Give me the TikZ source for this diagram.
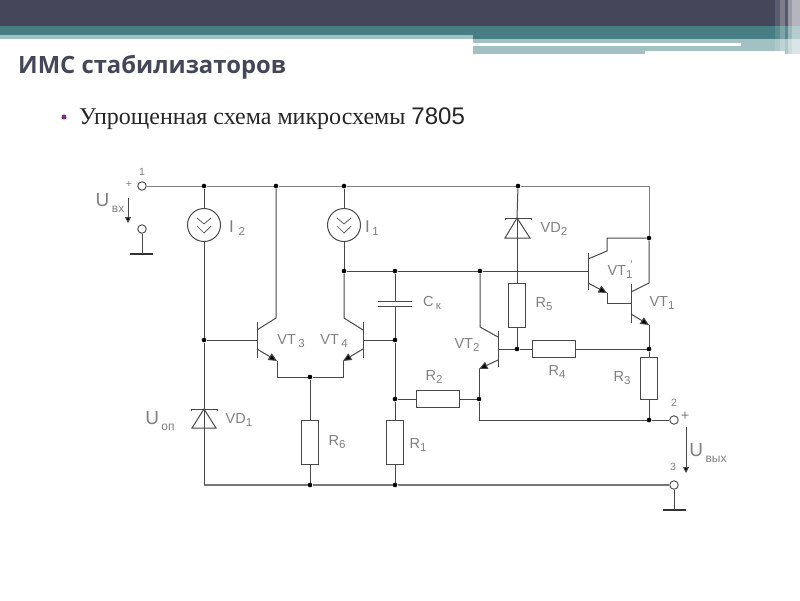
\documentclass[tikz,border=0pt]{standalone}
\usepackage{fontspec}
\setmainfont{Liberation Sans}
\newfontfamily\serifru{Liberation Serif}
\newfontfamily\titleru{Open Sans}
\usetikzlibrary{arrows.meta}
\definecolor{wire}{HTML}{484848}
\definecolor{lbl}{HTML}{808080}
\definecolor{ink}{HTML}{44465A}
\definecolor{teal1}{HTML}{467E84}
\definecolor{pale}{HTML}{A3C0C3}
\tikzset{
  w/.style={draw=wire,line width=1pt},
  thin wire/.style={draw=wire!70,line width=1pt},
  gnd/.style={draw=black!80,line width=1.8pt},
  rail/.style={draw=wire!75,line width=1.5pt},
  jd/.style={circle,fill=black,inner sep=0pt,minimum size=4.6pt},
  term/.style={circle,draw=wire,fill=white,line width=0.9pt,inner sep=0pt,minimum size=8.5pt},
  res/.style={rectangle,draw=wire,fill=white,line width=1pt,inner sep=0pt},
  vres/.style={res,minimum width=17pt,minimum height=44pt},
  hres/.style={res,minimum width=43pt,minimum height=17pt},
  src/.style={circle,draw=wire,line width=1pt,inner sep=0pt,minimum size=33pt},
  lab/.style={text=lbl,font=\fontsize{14.5}{14.5}\selectfont,inner sep=0pt},
  sm/.style={text=lbl,font=\fontsize{10.5}{11}\selectfont,inner sep=0pt},
  em/.style={w,-{Triangle[length=8.5pt,width=7.5pt,fill=black]}},
  volt/.style={draw=wire,line width=1pt,-{Triangle[length=6pt,width=6pt,fill=black]}},
}
\newcommand{\Sb}[1]{\raisebox{-3.5pt}{\fontsize{11.5}{12}\selectfont #1}}
\newcommand{\UL}[1]{{\fontsize{19}{19}\selectfont U}\,\raisebox{-6.5pt}{\fontsize{12}{12}\selectfont #1}}
\begin{document}
\begin{tikzpicture}[x=1pt,y=-1pt]
\useasboundingbox (0,0) rectangle (800,600);
% header
\fill[white] (0,0) rectangle (800,600);
\fill[pale] (473,39) rectangle (645,54);
\fill[pale] (645,39) rectangle (785,51);
\fill[pale] (785,39) rectangle (800,54);
\fill[white] (473,43) rectangle (741,45.5);
\fill[pale] (0,35) rectangle (473,39);
\fill[teal1] (0,26) rectangle (800,35);
\fill[teal1] (473,35) rectangle (800,39);
\fill[ink] (0,0) rectangle (800,26);
\fill[white,opacity=.12] (775,0) rectangle (780,54);
\fill[white,opacity=.3] (780,0) rectangle (785,54);
\fill[white,opacity=.1] (785,0) rectangle (788,54);
\fill[white,opacity=.45] (788,0) rectangle (792,54);
\fill[white,opacity=.6] (792,0) rectangle (800,54);
\node[anchor=base west,inner sep=0pt,text=ink] (title) at (18,73) {\titleru\bfseries\fontsize{23.8}{24}\selectfont ИМС стабилизаторов};
\node[circle,fill=violet!65!gray,inner sep=0pt,minimum size=5pt] (bul) at (64,117) {};
\node[anchor=base west,inner sep=0pt,text=black!85] (sub) at (79,124) {\fontsize{24}{24}\selectfont\serifru Упрощенная схема микросхемы \rmfamily 7805};

% junction dots
\node[jd] (t1) at (204,186) {};
\node[jd] (t2) at (276,186) {};
\node[jd] (t3) at (344,186) {};
\node[jd] (t4) at (518,186) {};
\coordinate (t5) at (649,186);
\node[jd] (a1) at (344,271) {};
\node[jd] (a2) at (395,271) {};
\node[jd] (a3) at (480,271) {};
\coordinate (a4) at (517,271);
\node[jd] (c1) at (649,238) {};
\node[jd] (b3) at (204,340) {};
\node[jd] (b4) at (395,340) {};
\node[jd] (e) at (310,377) {};
\node[jd] (r2l) at (395,399) {};
\node[jd] (r2r) at (479,399) {};
\node[jd] (r4a) at (517,349) {};
\node[jd] (r4b) at (649,349) {};
\node[jd] (o2) at (649,420) {};
\node[jd] (g1) at (310,485) {};
\node[jd] (g2) at (395,485) {};

% terminals
\node[term] (T1) at (142,186) {};
\node[term] (T0) at (142,229) {};
\node[term] (T2) at (674,420) {};
\node[term] (T3) at (674,485) {};
\coordinate (G0) at (142,254);
\coordinate (G0a) at (130,254); \coordinate (G0b) at (153,254);
\coordinate (G3) at (674,510);
\coordinate (G3a) at (663,510); \coordinate (G3b) at (686,510);

% components
\node[src] (I2) at (204,225) {};
\node[src] (I1) at (344,225) {};
\node[vres] (R6) at (310,442) {};
\node[vres] (R1) at (395,442) {};
\node[vres] (R5) at (517,305) {};
\node[vres,minimum height=42pt] (R3) at (649,378) {};
\node[hres] (R2) at (437.5,399) {};
\node[hres] (R4) at (554,349) {};

% chevrons
\foreach \c in {I1,I2} {
  \draw[draw=wire,line width=.7pt] ([shift={(-7,-7)}]\c.center) -- ([shift={(0,-1)}]\c.center) -- ([shift={(7,-7)}]\c.center);
  \draw[draw=wire,line width=.7pt] ([shift={(-7,1)}]\c.center) -- ([shift={(0,8)}]\c.center) -- ([shift={(7,1)}]\c.center);
}

% rails
\draw[thin wire] (T1) -- (t1) -- (t2) -- (t3) -- (t4) -- (t5) -- (c1);
\draw[rail] (g1 -| b3) -- (g1) -- (g2) -- (T3);
\draw[w] (a1) -- (a2) -- (a3) -- (a4);
\draw[w] (t1) -- (I2);
\draw[w] (I2) -- (b3);
\draw[w] (t3) -- (I1);
\draw[w] (I1) -- (a1);

% VT3
\coordinate (v3c) at (276,318);
\coordinate (v3ct) at (257,330);
\coordinate (v3bt) at (257,322);
\coordinate (v3bb) at (257,358);
\coordinate (v3b) at (257,340);
\coordinate (v3et) at (257,349);
\coordinate (v3e) at (277,361);
\coordinate (v3f) at (277,377);
\draw[w] (t2) -- (v3c) -- (v3ct);
\draw[w] (v3bt) -- (v3bb);
\draw[w] (b3) -- (v3b);
\draw[em] (v3et) -- (v3e);
\draw[w] (v3e) -- (v3f) -- (e);
% VT4
\coordinate (v4c) at (344,318);
\coordinate (v4ct) at (363,330);
\coordinate (v4bt) at (363,322);
\coordinate (v4bb) at (363,358);
\coordinate (v4b) at (363,340);
\coordinate (v4et) at (363,349);
\coordinate (v4e) at (343,361);
\coordinate (v4f) at (343,377);
\draw[w] (a1) -- (v4c) -- (v4ct);
\draw[w] (v4bt) -- (v4bb);
\draw[w] (v4b) -- (b4);
\draw[em] (v4et) -- (v4e);
\draw[w] (v4e) -- (v4f) -- (e);
% R6 R1 Ck
\draw[w] (e) -- (R6);
\draw[w] (R6) -- (g1);
\coordinate (cp1) at (395,301); \coordinate (cp2) at (395,306);
\coordinate (cp1a) at (378,301); \coordinate (cp1b) at (412,301);
\coordinate (cp2a) at (378,306); \coordinate (cp2b) at (412,306);
\draw[w] (a2) -- (cp1);
\draw[w] (cp1a) -- (cp1b);
\draw[w] (cp2a) -- (cp2b);
\draw[w] (cp2) -- (b4) -- (r2l) -- (R1.north);
\draw[w] (R1.south) -- (g2);
\draw[w] (r2l) -- (R2);
\draw[w] (R2) -- (r2r);
% VD1
\coordinate (d1t) at (204,409); \coordinate (d1l) at (192,428); \coordinate (d1r) at (216,428);
\coordinate (d1a) at (191,409); \coordinate (d1b) at (217,409);
\draw[w] (b3) -- (d1t);
\draw[w] (d1t) -- (d1l) -- (d1r) -- cycle;
\draw[w] (d1a) ++(0,2) -- (d1a) -- (d1b) -- ++(0,2);
\draw[w] (d1t) -- (g1 -| d1t);
% VD2
\coordinate (d2t) at (517,218); \coordinate (d2l) at (505,238); \coordinate (d2r) at (530,238);
\coordinate (d2a) at (505,218); \coordinate (d2b) at (531,218);
\draw[w] (t4) -- (d2t);
\draw[w] (d2t) -- (d2l) -- (d2r) -- cycle;
\draw[w] (d2a) ++(0,2) -- (d2a) -- (d2b) -- ++(0,2);
\draw[w] (d2t) -- (R5.north);
\draw[w] (R5) -- (r4a);
% VT2
\coordinate (v2c) at (480,327);
\coordinate (v2ct) at (498,337);
\coordinate (v2bt) at (498,331);
\coordinate (v2bb) at (498,367);
\coordinate (v2b) at (498,349);
\coordinate (v2et) at (498,360);
\coordinate (v2e) at (479,369);
\coordinate (v2f) at (479,420);
\draw[w] (a3) -- (v2c) -- (v2ct);
\draw[w] (v2bt) -- (v2bb);
\draw[w] (v2b) -- (r4a) -- (R4);
\draw[w] (R4) -- (r4b);
\draw[em] (v2et) -- (v2e);
\draw[w] (v2e) -- (r2r) -- (v2f) -- (o2) -- (T2);
\draw[w] (r4b) -- (R3);
\draw[w] (R3) -- (o2);
% VT1'
\coordinate (q1bt) at (588,253);
\coordinate (q1bb) at (588,290);
\coordinate (q1b) at (588,271);
\coordinate (q1ct) at (588,259);
\coordinate (q1c) at (607,251);
\coordinate (q1d) at (607,238);
\coordinate (q1et) at (588,283);
\coordinate (q1e) at (607,293);
\coordinate (q1f) at (607,303);
\draw[w] (a3) -- (q1b);
\draw[w] (q1bt) -- (q1bb);
\draw[w] (q1ct) -- (q1c) -- (q1d) -- (c1);
\draw[em] (q1et) -- (q1e);
\draw[w] (q1e) -- (q1f);
% VT1
\coordinate (q2bt) at (631,284);
\coordinate (q2bb) at (631,323);
\coordinate (q2b) at (631,303);
\coordinate (q2ct) at (631,292);
\coordinate (q2c) at (649,283);
\coordinate (q2et) at (631,314);
\coordinate (q2e) at (649,325);
\draw[w] (q1f) -- (q2b);
\draw[w] (q2bt) -- (q2bb);
\draw[w] (q2ct) -- (q2c) -- (c1);
\draw[em] (q2et) -- (q2e);
\draw[w] (q2e) -- (r4b);
% ground & outer
\draw[w] (T0) -- (G0);
\draw[gnd] (G0a) -- (G0b);
\draw[w] (T3) -- (G3);
\draw[gnd] (G3a) -- (G3b);
% voltage arrows
\coordinate (u1a) at (128,198); \coordinate (u1b) at (128,223);
\coordinate (u2a) at (686,427); \coordinate (u2b) at (686,473);
\draw[volt] (u1a) -- (u1b);
\draw[volt] (u2a) -- (u2b);

% labels
\node[sm] (n1) at (142,172) {1};
\node[sm] (p1) at (129,184) {+};
\node[sm] (n2) at (674,403) {2};
\node[lab] (p2) at (685,416) {+};
\node[sm] (n3) at (673,467) {3};
\node[lab] (lUin) at (110,203) {\UL{вх}};
\node[lab] (lUout) at (708,453) {\UL{вых}};
\node[lab] (lUop) at (160,421) {\UL{оп}};
\node[lab] (lI2) at (237,228) {{\fontsize{17}{17}\selectfont I}\,\,\Sb{2}};
\node[lab] (lI1) at (372,228) {{\fontsize{17}{17}\selectfont I}\,\Sb{1}};
\node[lab] (lVT3) at (291,341) {VT\,\Sb{3}};
\node[lab] (lVT4) at (334,341) {VT\,\Sb{4}};
\node[lab] (lVT2) at (467,345) {VT\Sb{2}};
\node[lab] (lVT1) at (662,303) {VT\Sb{1}};
\node[lab] (lVT1p) at (620,270) {VT\raisebox{-3.5pt}{\fontsize{11.5}{12}\selectfont 1\llap{\raisebox{10pt}{\fontsize{11}{11}\selectfont ′}}}};
\node[lab] (lVD1) at (239,420) {VD\Sb{1}};
\node[lab] (lVD2) at (554,229) {VD\Sb{2}};
\node[lab] (lR1) at (418,445) {R\Sb{1}};
\node[lab] (lR2) at (434,377) {R\Sb{2}};
\node[lab] (lR3) at (622,378) {R\Sb{3}};
\node[lab] (lR4) at (557,372) {R\Sb{4}};
\node[lab] (lR5) at (544,304) {R\Sb{5}};
\node[lab] (lR6) at (337,442) {R\Sb{6}};
\node[lab] (lCk) at (432,303) {C\,\Sb{к}};
\end{tikzpicture}
\end{document}
